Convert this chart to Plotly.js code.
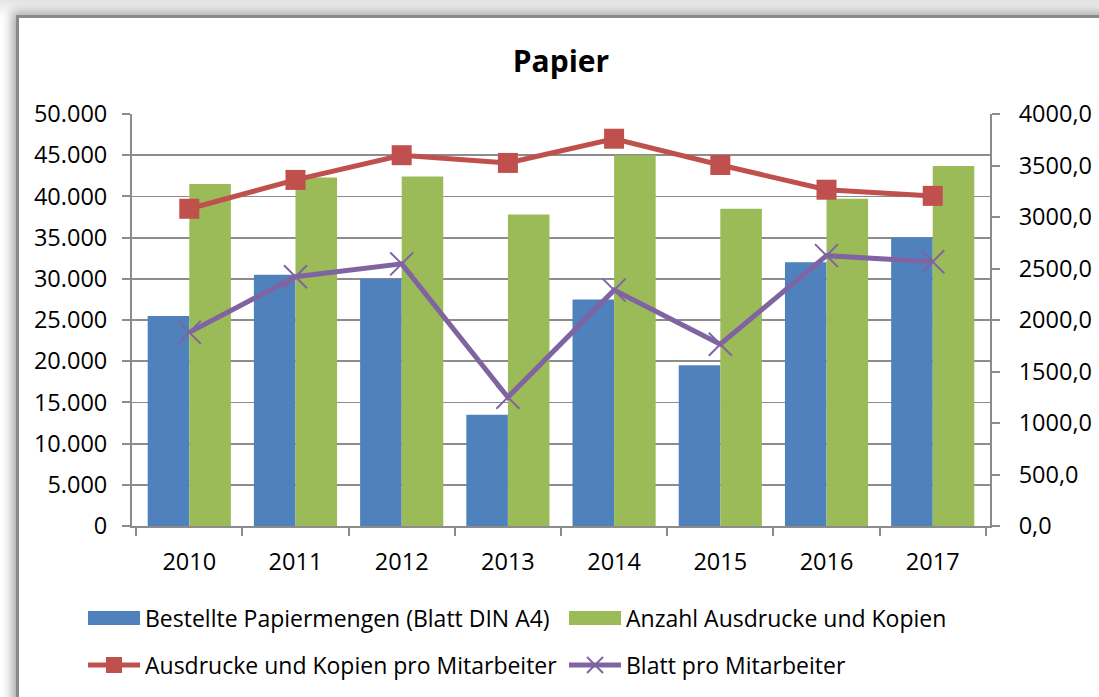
<!DOCTYPE html>
<html>
<head>
<meta charset="utf-8">
<script src="https://cdn.plot.ly/plotly-3.0.1.min.js"></script>
<style>
  html, body { margin: 0; padding: 0; background: #ffffff; overflow: hidden; }
  #wrap { position: relative; width: 1099px; height: 697px; overflow: hidden;
          background: linear-gradient(to bottom, #e4e4e4 0px, #fafafa 14px, #ffffff 20px); }
  #frame { position: absolute; left: 16px; top: 15px; width: 1110px; height: 720px;
           background: #ffffff; border-left: 3px solid #8a8a8a; border-top: 3px solid #8a8a8a;
           box-shadow: -4px -3px 10px rgba(0,0,0,0.35); }
  #chart { position: absolute; left: 0; top: 0; width: 1099px; height: 697px; }
</style>
</head>
<body>
<div id="wrap">
  <div id="frame"></div>
  <div id="chart"></div>
</div>
<script>
const years = ['2010', '2011', '2012', '2013', '2014', '2015', '2016', '2017'];
const bestellt = [25500, 30500, 30000, 13500, 27500, 19500, 32000, 35000];
const ausdrucke = [41500, 42300, 42400, 37800, 45000, 38500, 39700, 43700];
const ausdruckeProMA = [3080, 3360, 3600, 3525, 3760, 3505, 3265, 3205];
const blattProMA = [1880, 2420, 2545, 1250, 2290, 1765, 2625, 2565];

const names = [
  'Bestellte Papiermengen (Blatt DIN A4)',
  'Anzahl Ausdrucke und Kopien',
  'Ausdrucke und Kopien pro Mitarbeiter',
  'Blatt pro Mitarbeiter'
];

const FONT = '"Open Sans", "Noto Sans", sans-serif';
const GRID = '#8c8c8c';
const TICKSIZE = 23.5;
const LEGSIZE = 23;

const traces = [
  { type: 'bar', name: names[0], x: years, y: bestellt, marker: { color: '#4F81BD' }, yaxis: 'y', legend: 'legend' },
  { type: 'bar', name: names[1], x: years, y: ausdrucke, marker: { color: '#9BBB59' }, yaxis: 'y', legend: 'legend' },
  { type: 'scatter', mode: 'lines+markers', name: names[2], x: years, y: ausdruckeProMA, yaxis: 'y2', legend: 'legend2',
    line: { color: '#C0504D', width: 5 },
    marker: { symbol: 'square', size: 20, color: '#C0504D', line: { color: '#C0504D', width: 0 } } },
  { type: 'scatter', mode: 'lines+markers', name: names[3], x: years, y: blattProMA, yaxis: 'y2', legend: 'legend2',
    line: { color: '#8064A2', width: 5 },
    marker: { symbol: 'x-thin', size: 23, color: '#8064A2', line: { color: '#8064A2', width: 2 } } }
];

const plotH = 697 - 114 - 170;
const plotW = 1099 - 132 - 109;
const legendBase = {
  orientation: 'h', xref: 'paper', xanchor: 'left', yref: 'paper', yanchor: 'middle',
  font: { family: FONT, size: LEGSIZE, color: '#000' }, itemwidth: 52, entrywidth: 414,
  bgcolor: 'rgba(0,0,0,0)', traceorder: 'normal', itemclick: false
};

const layout = {
  width: 1099, height: 697,
  paper_bgcolor: 'rgba(0,0,0,0)', plot_bgcolor: 'rgba(0,0,0,0)',
  separators: ',.',
  margin: { l: 132, r: 109, t: 114, b: 170 },
  font: { family: FONT, size: 21, color: '#000000' },
  title: { text: '<b>Papier</b>', font: { family: FONT, size: 30, color: '#000' },
           x: 0.5, xref: 'paper', xanchor: 'center', y: 0.912, yref: 'container', yanchor: 'middle' },
  barmode: 'group', bargap: 0.217, bargroupgap: 0,
  showlegend: true,
  legend: Object.assign({}, legendBase, { x: (83 - 132) / plotW, y: (527 - 618) / plotH }),
  legend2: Object.assign({}, legendBase, { x: (83 - 132) / plotW, y: (527 - 665) / plotH }),
  xaxis: { type: 'category', showline: true, linecolor: GRID, linewidth: 2, ticks: 'outside', tickson: 'boundaries',
           ticklen: 8, tickwidth: 2, tickcolor: GRID, showgrid: false, ticklabelstandoff: 14,
           tickfont: { family: FONT, size: TICKSIZE } },
  yaxis: { range: [0, 50000], dtick: 5000, tick0: 0, tickformat: ',', showgrid: true, gridcolor: GRID, gridwidth: 1.8,
           showline: true, linecolor: GRID, linewidth: 2, ticks: 'outside', ticklen: 8, tickwidth: 2, tickcolor: GRID,
           zeroline: false, ticklabelstandoff: 10, tickfont: { family: FONT, size: TICKSIZE } },
  yaxis2: { overlaying: 'y', side: 'right', range: [0, 4000], dtick: 500, tick0: 0, tickformat: '.1f', showgrid: false,
            showline: true, linecolor: GRID, linewidth: 2, ticks: 'outside', ticklen: 8, tickwidth: 2, tickcolor: GRID,
            zeroline: false, ticklabelstandoff: 14, tickfont: { family: FONT, size: TICKSIZE } }
};

Plotly.newPlot('chart', traces, layout, { displayModeBar: false, staticPlot: true }).then(function (gd) {
  // widen the bar legend swatches to Excel-style rectangles
  gd.querySelectorAll('g.legend .legendpoints path').forEach(function (p) {
    p.setAttribute('d', 'M26,7H-26V-7H26Z');
  });
});
</script>
</body>
</html>
